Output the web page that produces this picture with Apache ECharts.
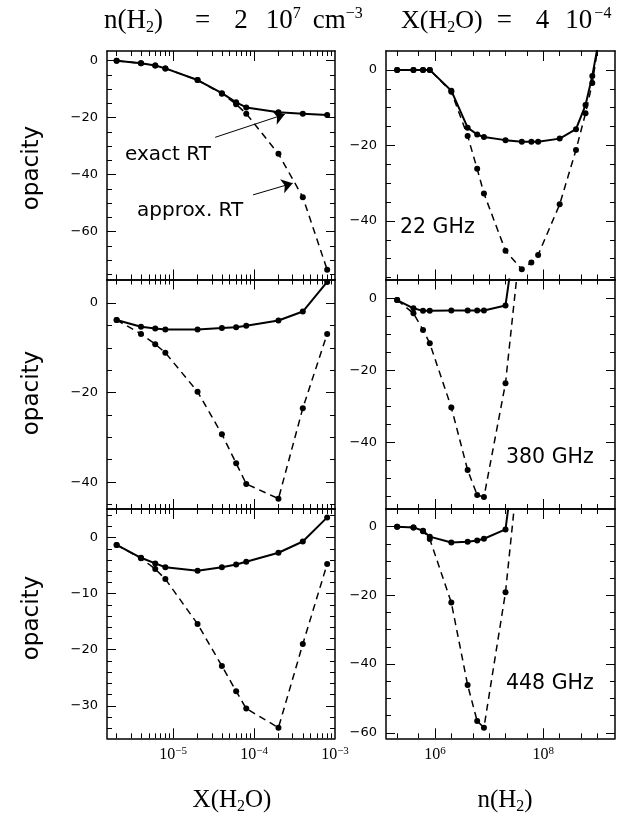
<!DOCTYPE html>
<html><head><meta charset="utf-8">
<script src="https://cdn.jsdelivr.net/npm/echarts@6/dist/echarts.min.js"></script>
<style>html,body{margin:0;padding:0;background:#fff;} #c{width:627px;height:818px;}</style>
</head><body><div id="c"></div>
<script>
// ---------------- data ----------------
const xH2O = [2e-6, 4e-6, 6e-6, 8e-6, 2e-5, 4e-5, 6e-5, 8e-5, 2e-4, 4e-4, 8e-4];
const exact22_X  = [0, -0.9, -1.7, -2.7, -6.8, -11.4, -14.6, -16.4, -18.1, -18.6, -19.1];
const approx22_X = [0, -0.9, -1.7, -2.7, -6.8, -11.6, -15.3, -18.6, -32.7, -47.9, -73.4];
const exact380_X  = [-3.8, -5.3, -5.7, -5.9, -5.9, -5.6, -5.4, -5.1, -3.9, -1.9, 4.7];
const approx380_X = [-3.8, -6.9, -9.2, -11.1, -19.8, -29.3, -35.8, -40.4, -43.7, -23.5, -6.9];
const exact448_X  = [-1.3, -3.6, -4.6, -5.3, -5.9, -5.3, -4.8, -4.3, -2.7, -0.7, 3.6];
const approx448_X = [-1.3, -3.7, -5.6, -7.4, -15.4, -22.9, -27.4, -30.5, -33.9, -19.0, -4.7];

const nH2_22 = [2e5, 4e5, 6e5, 8e5, 2e6, 4e6, 6e6, 8e6, 2e7, 4e7, 6e7, 8e7, 2e8, 4e8, 6e8, 8e8, 1e9];
const exact22_n  = [0, 0, 0, 0, -5.5, -15.3, -17.1, -17.8, -18.6, -19.0, -19.0, -19.0, -18.2, -15.7, -9.3, -1.6, 6];
const approx22_n = [0, 0, 0, 0, -5.8, -17.5, -26.2, -32.7, -47.9, -52.8, -51.0, -49.0, -35.6, -21.2, -11.5, -3.5, 5.5];
const nH2_hi = [2e5, 4e5, 6e5, 8e5, 2e6, 4e6, 6e6, 8e6, 2e7, 4e7];
const exact380_n  = [-0.5, -2.8, -3.5, -3.5, -3.4, -3.4, -3.4, -3.4, -2.0, 30];
const approx380_n = [-0.5, -4.2, -8.8, -12.5, -30.3, -47.7, -54.6, -55.2, -23.6, 19];
const exact448_n  = [0, -0.2, -1.2, -2.9, -4.6, -4.4, -4.0, -3.5, -0.8, 36];
const approx448_n = [0, -0.2, -1.3, -3.6, -22.1, -46.1, -56.6, -58.5, -19.1, 27];

// tick labels
const yLabels22_X = [0, -20, -40, -60];
const yLabels380_X = [0, -20, -40];
const yLabels448_X = [0, -10, -20, -30];
const yLabels22_n = [0, -20, -40];
const yLabels380_n = [0, -20, -40];
const yLabels448_n = [0, -20, -40, -60];
const xLabelsH2O = [1e-5, 1e-4, 1e-3];
const xMajorH2O = [1e-5, 1e-4];
const xMinorH2O = [2e-6,3e-6,4e-6,5e-6,6e-6,7e-6,8e-6,9e-6,2e-5,3e-5,4e-5,5e-5,6e-5,7e-5,8e-5,9e-5,2e-4,3e-4,4e-4,5e-4,6e-4,7e-4,8e-4,9e-4];
const xLabelsN = [1e6, 1e8];
const xMajorN = [1e6, 1e8];
const xMinorN = [2e5, 5e5, 2e6, 5e6, 1e7, 2e7, 5e7, 2e8, 5e8, 1e9];
const xRangeH2O = [1.52e-6, 1e-3];
const xRangeN = [1.245e5, 2.1e9];

// annotation arrows (data space)
const arrowExact = [[3.3e-5, -26.9], [2.4e-4, -18.8]];
const arrowApprox = [[9.7e-5, -47.1], [3.0e-4, -43.0]];

// ---------------- layout ----------------
const AX = '#000';
const grids = [
  {left: 107, top: 51, width: 228, height: 228.5},
  {left: 386, top: 51, width: 229, height: 228.5},
  {left: 107, top: 279.5, width: 228, height: 229.5},
  {left: 386, top: 279.5, width: 229, height: 229.5},
  {left: 107, top: 509, width: 228, height: 229.3},
  {left: 386, top: 509, width: 229, height: 229.3}
];
const panels = [
  {x: xH2O, ex: exact22_X, ap: approx22_X, yMin: -76.8, yMax: 3.4, yLab: yLabels22_X, step: 5, kind: 'X', xl: false},
  {x: nH2_22, ex: exact22_n, ap: approx22_n, yMin: -55.5, yMax: 5.0, yLab: yLabels22_n, step: 5, kind: 'n', xl: false},
  {x: xH2O, ex: exact380_X, ap: approx380_X, yMin: -46.0, yMax: 5.25, yLab: yLabels380_X, step: 5, kind: 'X', xl: false},
  {x: nH2_hi, ex: exact380_n, ap: approx380_n, yMin: -58.5, yMax: 5.2, yLab: yLabels380_n, step: 5, kind: 'n', xl: false},
  {x: xH2O, ex: exact448_X, ap: approx448_X, yMin: -35.8, yMax: 5.1, yLab: yLabels448_X, step: 2, kind: 'X', xl: true},
  {x: nH2_hi, ex: exact448_n, ap: approx448_n, yMin: -61.6, yMax: 5.15, yLab: yLabels448_n, step: 5, kind: 'n', xl: true}
];

function minorVals(min, max, step, majors) {
  const out = [];
  for (let v = Math.ceil(min / step) * step; v <= max; v += step) {
    if (v - min < 0.4 || max - v < 0.4) continue;
    if (majors.indexOf(v) >= 0) continue;
    out.push(v);
  }
  return out;
}
const lineSt = {color: AX, width: 1.5};
const tickSt = {color: AX, width: 1};
function powFmt(v) {
  const e = Math.round(Math.log10(v));
  return '{b|10}{s|' + String(e).replace('-', '\u2212') + '}';
}

const xAxes = [], yAxes = [], series = [];
panels.forEach((p, gi) => {
  const ext = p.kind === 'X' ? xRangeH2O : xRangeN;
  const maj = p.kind === 'X' ? xMajorH2O : xMajorN;
  const mnr = p.kind === 'X' ? xMinorH2O : xMinorN;
  const lab = p.kind === 'X' ? xLabelsH2O : xLabelsN;
  const xb = {gridIndex: gi, type: 'log', logBase: 10, min: ext[0], max: ext[1], splitLine: {show: false}};
  xAxes.push(
    Object.assign({}, xb, {position: 'bottom', axisLine: {show: true, onZero: false, lineStyle: lineSt},
      axisTick: {show: true, inside: true, length: 10, customValues: maj, lineStyle: tickSt},
      axisLabel: {show: p.xl, customValues: lab, margin: 7, formatter: powFmt,
        fontFamily: 'Liberation Serif', fontSize: 16, color: '#000',
        rich: {b: {fontFamily: 'Liberation Serif', fontSize: 16, color: '#000', lineHeight: 19},
               s: {fontFamily: 'Liberation Serif', fontSize: 11, color: '#000', lineHeight: 11, verticalAlign: 'top'}}}}),
    Object.assign({}, xb, {position: 'bottom', axisLine: {show: false, onZero: false},
      axisTick: {show: true, inside: true, length: 5, customValues: mnr, lineStyle: tickSt}, axisLabel: {show: false}}),
    Object.assign({}, xb, {position: 'top', axisLine: {show: true, onZero: false, lineStyle: lineSt},
      axisTick: {show: true, inside: true, length: 10, customValues: maj, lineStyle: tickSt}, axisLabel: {show: false}}),
    Object.assign({}, xb, {position: 'top', axisLine: {show: false, onZero: false},
      axisTick: {show: true, inside: true, length: 5, customValues: mnr, lineStyle: tickSt}, axisLabel: {show: false}})
  );
  const yb = {gridIndex: gi, type: 'value', min: p.yMin, max: p.yMax, splitLine: {show: false}};
  const ym = minorVals(p.yMin, p.yMax, p.step, p.yLab);
  yAxes.push(
    Object.assign({}, yb, {position: 'left', axisLine: {show: true, onZero: false, lineStyle: lineSt},
      axisTick: {show: true, inside: true, length: 9, customValues: p.yLab, lineStyle: tickSt},
      axisLabel: {show: true, customValues: p.yLab, margin: 9, fontFamily: 'DejaVu Sans', fontSize: 13, color: '#000',
        formatter: v => String(v).replace('-', '\u2212')}}),
    Object.assign({}, yb, {position: 'left', axisLine: {show: false, onZero: false},
      axisTick: {show: true, inside: true, length: 5, customValues: ym, lineStyle: tickSt}, axisLabel: {show: false}}),
    Object.assign({}, yb, {position: 'right', axisLine: {show: true, onZero: false, lineStyle: lineSt},
      axisTick: {show: true, inside: true, length: 9, customValues: p.yLab, lineStyle: tickSt}, axisLabel: {show: false}}),
    Object.assign({}, yb, {position: 'right', axisLine: {show: false, onZero: false},
      axisTick: {show: true, inside: true, length: 5, customValues: ym, lineStyle: tickSt}, axisLabel: {show: false}})
  );
  const sEx = {type: 'line', name: 'exact RT', xAxisIndex: gi * 4, yAxisIndex: gi * 4,
    data: p.x.map((v, i) => [v, p.ex[i]]), symbol: 'circle', symbolSize: 6, clip: true,
    itemStyle: {color: '#000'}, lineStyle: {color: '#000', width: 2}, animation: false, z: 3};
  const sAp = {type: 'line', name: 'approx. RT', xAxisIndex: gi * 4, yAxisIndex: gi * 4,
    data: p.x.map((v, i) => [v, p.ap[i]]), symbol: 'circle', symbolSize: 6, clip: true,
    itemStyle: {color: '#000'}, lineStyle: {color: '#000', width: 1.5, type: [7, 5]}, animation: false, z: 3};
  if (gi === 0) {
    sEx.markLine = {silent: true, symbol: ['none', 'arrow'], symbolSize: 11, animation: false,
      itemStyle: {color: '#000'},
      lineStyle: {color: '#000', width: 1, type: 'solid'}, label: {show: false},
      data: [[{coord: arrowExact[0]}, {coord: arrowExact[1]}], [{coord: arrowApprox[0]}, {coord: arrowApprox[1]}]]};
  }
  series.push(sEx, sAp);
});

const sans = 'DejaVu Sans';
const serif = 'Liberation Serif';
const richSerif = {
  x: {fontFamily: serif, fontSize: 26, fill: '#000', lineHeight: 30},
  n: {fontFamily: serif, fontSize: 27, fill: '#000', lineHeight: 30},
  m: {fontFamily: serif, fontSize: 25, fill: '#000', lineHeight: 30},
  sub: {fontFamily: serif, fontSize: 16, fill: '#000', lineHeight: 14, verticalAlign: 'bottom'},
  sup: {fontFamily: serif, fontSize: 16, fill: '#000', lineHeight: 14, verticalAlign: 'top'},
  g2: {width: 2}, g12: {width: 12}, g14: {width: 14}, g16: {width: 16},
  g18: {width: 18}, g24: {width: 24}, g32: {width: 32}
};
function txt(x, y, text, size, align, rot) {
  return {type: 'text', x: x, y: y, rotation: rot || 0, silent: true,
    style: {text: text, fontFamily: sans, fontSize: size, fill: '#000', align: align || 'left', verticalAlign: 'middle'}};
}
function rtxt(x, y, text, align) {
  return {type: 'text', x: x, y: y, silent: true,
    style: {text: text, align: align, verticalAlign: 'middle', rich: richSerif}};
}
const graphic = [
  rtxt(104, 21, '{n|n(H}{sub|2}{n|)}{g32| }{n|=}{g24| }{n|2}{g18| }{n|10}{sup|7}{g12| }{n|cm}{sup|\u22123}', 'left'),
  rtxt(401, 21, '{x|X(H}{sub|2}{x|O)}{g14| }{n|=}{g24| }{n|4}{g16| }{n|10}{g2| }{sup|\u22124}', 'left'),
  rtxt(232, 800, '{m|X(H}{sub|2}{m|O)}', 'center'),
  rtxt(505, 800, '{m|n(H}{sub|2}{m|)}', 'center'),
  txt(32, 168, 'opacity', 23, 'center', Math.PI / 2),
  txt(32, 393, 'opacity', 23, 'center', Math.PI / 2),
  txt(32, 618, 'opacity', 23, 'center', Math.PI / 2),
  txt(125, 154.5, 'exact RT', 20, 'left'),
  txt(137, 211, 'approx. RT', 20, 'left'),
  txt(400, 228, '22 GHz', 20.5, 'left'),
  txt(506, 457.5, '380 GHz', 20.5, 'left'),
  txt(506, 684, '448 GHz', 20.5, 'left')
];

const chart = echarts.init(document.getElementById('c'), null, {renderer: 'canvas'});
chart.setOption({
  backgroundColor: '#fff',
  animation: false,
  grid: grids.map(g => Object.assign({containLabel: false, show: false}, g)),
  xAxis: xAxes,
  yAxis: yAxes,
  series: series,
  graphic: graphic
});
</script>
</body></html>
